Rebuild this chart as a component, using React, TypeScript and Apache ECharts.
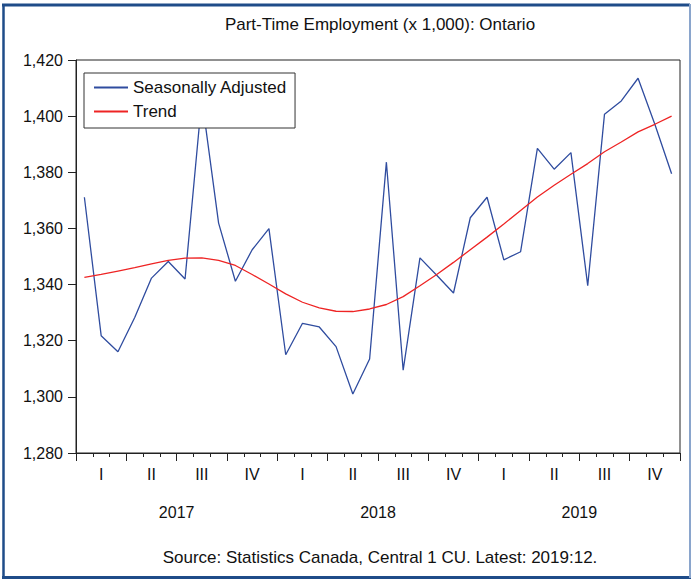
import React, { useEffect, useRef } from "react";
import * as echarts from "echarts";

const titleText = "Part-Time Employment (x 1,000): Ontario";
const sourceText = "Source: Statistics Canada, Central 1 CU. Latest: 2019:12.";

const years = ["2017", "2018", "2019"];
const monthNames = ["01", "02", "03", "04", "05", "06", "07", "08", "09", "10", "11", "12"];
const quarterLabels = ["I", "II", "III", "IV", "I", "II", "III", "IV", "I", "II", "III", "IV"];
const months = years.flatMap((y) => monthNames.map((m) => `${y}:${m}`));

const seasonallyAdjusted = [
  1371.1, 1321.8, 1316.1, 1328.3, 1342.3, 1348.2, 1342.0, 1406.3, 1361.9, 1341.2, 1352.4, 1359.9,
  1315.0, 1326.2, 1324.9, 1317.9, 1301.0, 1313.5, 1383.6, 1309.5, 1349.5, 1343.3, 1337.0, 1363.8,
  1371.1, 1348.8, 1351.7, 1388.5, 1381.1, 1387.0, 1339.6, 1400.7, 1405.4, 1413.5, 1397.1, 1379.5,
];

const trend = [
  1342.6, 1343.6, 1344.8, 1346.0, 1347.4, 1348.6, 1349.4, 1349.5, 1348.6, 1346.8, 1343.6, 1340.2,
  1336.7, 1333.7, 1331.7, 1330.5, 1330.4, 1331.3, 1332.9, 1335.7, 1339.6, 1343.6, 1347.9, 1352.4,
  1356.9, 1361.6, 1366.4, 1371.2, 1375.4, 1379.3, 1383.1, 1387.3, 1390.8, 1394.4, 1397.1, 1400.0,
];

const yMin = 1280;
const yMax = 1420;
const yInterval = 20;

const FONT = "'Liberation Sans', Arial, sans-serif";
const TEXT = "#111";
const BLUE = "#2f4c9f";
const RED = "#ee2424";

export default function App() {
  const ref = useRef<HTMLDivElement>(null);

  useEffect(() => {
    if (!ref.current) return;
    const chart = echarts.init(ref.current, undefined, { renderer: "svg" });
    const option: any = {
      animation: false,
      backgroundColor: "#fff",
      textStyle: { fontFamily: FONT, color: TEXT },
      title: {
        text: titleText,
        left: 375,
        textAlign: "center",
        top: 11,
        textStyle: { fontFamily: FONT, fontSize: 17, fontWeight: "normal", color: TEXT },
      },
      legend: {
        orient: "vertical",
        left: 84,
        top: 73,
        padding: [6, 8, 8, 9],
        itemGap: 7,
        itemWidth: 34,
        itemHeight: 14,
        backgroundColor: "#fff",
        borderColor: "#333",
        borderWidth: 1,
        itemStyle: { opacity: 0 },
        textStyle: { fontFamily: FONT, fontSize: 17, color: TEXT },
        data: ["Seasonally Adjusted", "Trend"],
      },
      grid: {
        left: 76,
        right: 11,
        top: 60,
        bottom: 126,
        show: true,
        borderColor: "#222",
        borderWidth: 1,
        backgroundColor: "transparent",
      },
      xAxis: [
        {
          type: "category",
          position: "bottom",
          data: months,
          boundaryGap: true,
          axisLine: { show: true, lineStyle: { color: "#222", width: 1 } },
          axisTick: { show: true, interval: 0, length: 4, lineStyle: { color: "#222" } },
          axisLabel: { show: false },
          splitLine: { show: false },
        },
        {
          type: "category",
          position: "bottom",
          data: quarterLabels.map((q, i) => ({ value: `${q}-${i}` })),
          boundaryGap: true,
          axisLine: { show: false },
          axisTick: { show: true, interval: 0, length: 8, lineStyle: { color: "#222" } },
          axisLabel: {
            show: true,
            interval: 0,
            margin: 13,
            fontFamily: FONT,
            fontSize: 16,
            color: TEXT,
            formatter: (v: string) => v.split("-")[0],
          },
          splitLine: { show: false },
        },
        {
          type: "category",
          position: "bottom",
          data: years,
          boundaryGap: true,
          axisLine: { show: false },
          axisTick: { show: false },
          axisLabel: { show: true, interval: 0, margin: 51, fontFamily: FONT, fontSize: 16, color: TEXT },
          splitLine: { show: false },
        },
      ],
      yAxis: {
        type: "value",
        min: yMin,
        max: yMax,
        interval: yInterval,
        axisLine: { show: true, lineStyle: { color: "#222", width: 1 } },
        axisTick: { show: true, inside: false, length: 8, lineStyle: { color: "#222" } },
        axisLabel: {
          margin: 13,
          fontFamily: FONT,
          fontSize: 16,
          color: TEXT,
          formatter: (v: number) => v.toLocaleString("en-US"),
        },
        splitLine: { show: false },
      },
      series: [
        {
          name: "Seasonally Adjusted",
          type: "line",
          xAxisIndex: 0,
          data: seasonallyAdjusted,
          symbol: "none",
          lineStyle: { color: BLUE, width: 1.3 },
          itemStyle: { color: BLUE },
          z: 2,
        },
        {
          name: "Trend",
          type: "line",
          xAxisIndex: 0,
          data: trend,
          symbol: "none",
          lineStyle: { color: RED, width: 1.3 },
          itemStyle: { color: RED },
          z: 3,
        },
      ],
      graphic: [
        {
          type: "text",
          x: 380,
          y: 557,
          style: {
            text: sourceText,
            fontFamily: FONT,
            fontSize: 17,
            fill: TEXT,
            align: "center",
            verticalAlign: "middle",
          },
        },
        {
          type: "line",
          shape: { x1: 2, y1: 5, x2: 690, y2: 5 },
          style: { stroke: "#1f4c89", lineWidth: 3 },
        },
        {
          type: "line",
          shape: { x1: 3.5, y1: 4, x2: 3.5, y2: 578 },
          style: { stroke: "#1f4c89", lineWidth: 2.5 },
        },
        {
          type: "line",
          shape: { x1: 2, y1: 577.5, x2: 691, y2: 577.5 },
          style: { stroke: "#1f4c89", lineWidth: 3 },
        },
        {
          type: "line",
          shape: { x1: 690, y1: 4, x2: 690, y2: 578 },
          style: { stroke: "#8aa5cc", lineWidth: 2 },
        },
      ],
    };
    chart.setOption(option);
    return () => chart.dispose();
  }, []);

  return (
    <div
      ref={ref}
      style={{ position: "fixed", left: 0, top: 0, width: 691, height: 579, background: "#fff" }}
    />
  );
}
